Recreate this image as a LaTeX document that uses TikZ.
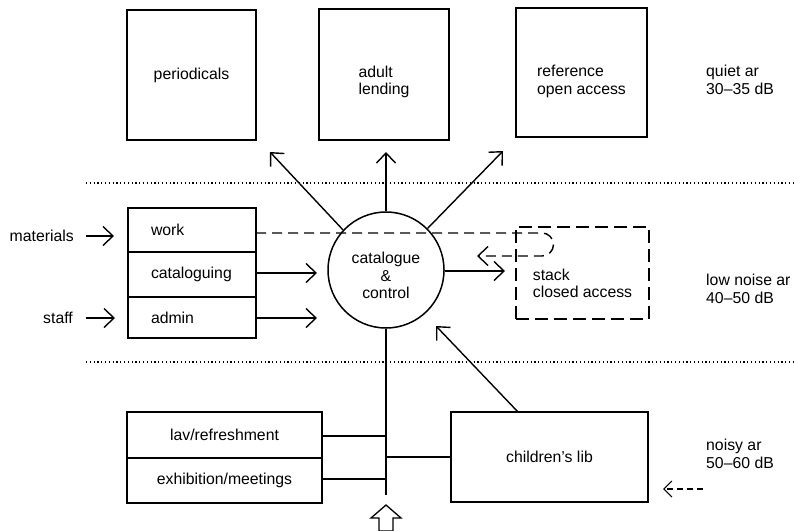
\documentclass[tikz,border=0pt]{standalone}
\usepackage{fontspec}
\setmainfont{Liberation Sans}
\usetikzlibrary{arrows.meta}
\begin{document}
\begin{tikzpicture}[x=1pt,y=-1pt,
  every node/.style={font=\fontsize{15.8}{17.5}\selectfont},
  room/.style={draw,line width=1.5pt,rectangle,inner sep=0pt},
  cell/.style={draw,line width=1.3pt,rectangle,inner xsep=23pt,inner ysep=0pt,text width=82pt,align=left},
  lowcell/.style={draw,line width=1.3pt,rectangle,inner sep=0pt,minimum width=195pt,align=center},
  arr/.style={line width=1.4pt,-{Straight Barb[length=10pt,width=19pt,line width=1.4pt]}},
  darr/.style={line width=1.4pt,dash pattern=on 10pt off 6pt,-{Straight Barb[length=10pt,width=19pt,line width=1.4pt]}},
  dotline/.style={line width=1.1pt,dash pattern=on 1.2pt off 2.6pt},
  link/.style={line width=1.4pt},
  zone/.style={align=left,anchor=west,inner sep=0pt}
]
\useasboundingbox (0,0) rectangle (794,530);
\fill[white] (0,0) rectangle (794,530);

% top rooms
\node[room,minimum width=129pt,minimum height=130pt] (per) at (191.5,75) {periodicals};
\node[room,minimum width=130pt,minimum height=131pt,align=left,text height=44pt] (adult) at (384,74.5) {adult\\lending};
\node[room,minimum width=131pt,minimum height=129pt,align=left,text height=47pt] (ref) at (581.5,72.5) {reference\\open access};

% zone lines
\coordinate (d1a) at (86,183); \coordinate (d1b) at (794,183);
\coordinate (d2a) at (86,362); \coordinate (d2b) at (794,362);
\draw[dotline] (d1a) -- (d1b);
\draw[dotline] (d2a) -- (d2b);

% zone labels
\node[zone] (qz) at (706,80) {quiet ar\\30--35 dB};
\node[zone] (lz) at (706,289) {low noise ar\\40--50 dB};
\node[zone] (nz) at (706,454) {noisy ar\\50--60 dB};

% left block
\node[cell,minimum height=44pt] (work) at (192,230) {work};
\node[cell,minimum height=45pt] (cat) at (192,274.5) {cataloguing};
\node[cell,minimum height=41pt] (adm) at (192,317.5) {admin};

\node[anchor=east,inner sep=0pt] (mat) at (74,236) {materials};
\node[anchor=east,inner sep=0pt] (staff) at (73,318) {staff};
\coordinate (matA) at (86,236); \coordinate (matB) at (114,236);
\coordinate (stA) at (86,318); \coordinate (stB) at (115,318);
\draw[arr] (matA) -- (matB);
\draw[arr] (stA) -- (stB);

% centre
\node[draw,circle,line width=1.5pt,minimum size=116pt,inner sep=0pt,align=center,text height=58pt] (cc) at (386,270) {catalogue\\\&\\control};

% stack
\node[draw,line width=1.5pt,dash pattern=on 13pt off 6pt,rectangle,minimum width=133pt,minimum height=92pt,inner sep=0pt,align=left,text height=50pt] (stack) at (582.5,273) {stack\\closed access};

% arrows from centre
\coordinate (tl) at (270,152); \coordinate (tu) at (386,152); \coordinate (tr) at (503,151);
\draw[arr] (cc.137) -- (tl);
\draw[arr] (cc.90) -- (tu);
\draw[arr] (cc.45) -- (tr);
\coordinate (ts) at (505,271);
\draw[arr] (cc.east |- ts) -- (ts);

% arrows from left block
\coordinate (tc) at (317,273); \coordinate (ta) at (317,318);
\draw[arr] (cat.east |- tc) -- (tc);
\draw[arr] (adm.east |- ta) -- (ta);

% dashed loop to stack
\coordinate (dl0) at (256,233); \coordinate (dl1) at (542,233); \coordinate (dlt) at (477,256);
\draw[darr] (dl0) -- (dl1) arc[start angle=90,end angle=-90,radius=11.5pt] -- (dlt);

% bottom rooms
\node[lowcell,minimum height=46pt] (lav) at (224.5,435) {lav/refreshment};
\node[lowcell,minimum height=45pt] (exh) at (224.5,480.5) {exhibition/meetings};
\node[room,minimum width=197pt,minimum height=90pt] (child) at (549.5,457) {children's lib};

% spine
\coordinate (sp) at (386,495);
\draw[link] (cc.south) -- (sp);
\coordinate (j1) at (386,436); \coordinate (j2) at (386,479); \coordinate (j3) at (386,457);
\draw[link] (lav.east |- j1) -- (j1);
\draw[link] (exh.east |- j2) -- (j2);
\draw[link] (j3) -- (child.west |- j3);

% children to centre
\coordinate (cs) at (518,412); \coordinate (ct) at (436,326);
\draw[arr] (cs) -- (ct);

% entrance
\draw[line width=1.3pt,line join=miter] (386,505) -- (401,518) -- (393,518) -- (393,531) -- (379,531) -- (379,518) -- (371,518) -- cycle;

% dashed arrow bottom right
\coordinate (ea) at (703,489); \coordinate (eb) at (663,489);
\draw[line width=1.2pt,dash pattern=on 6pt off 4pt,-{Straight Barb[length=8pt,width=16pt,line width=1.2pt]}] (ea) -- (eb);
\end{tikzpicture}
\end{document}
